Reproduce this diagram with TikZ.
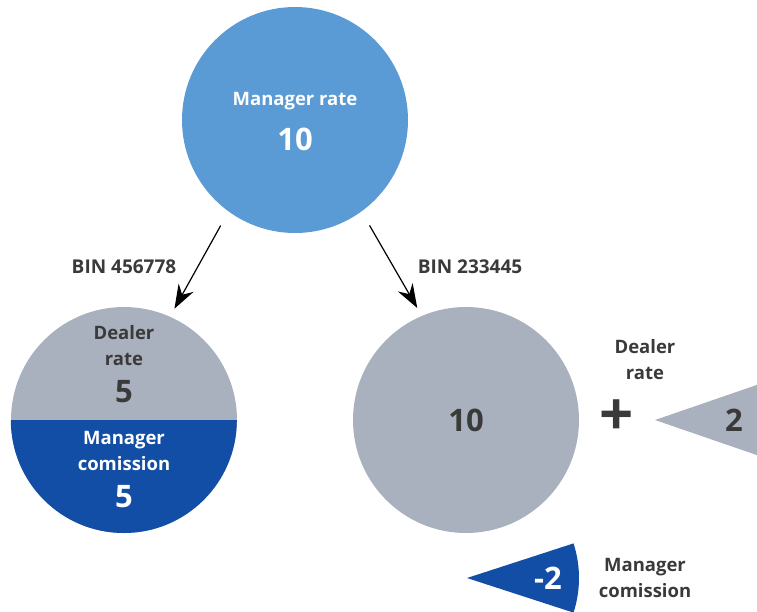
\documentclass[tikz,border=0pt]{standalone}
\usepackage{fontspec}
\setmainfont{Open Sans}
\usetikzlibrary{arrows.meta}

\definecolor{mgrblue}{HTML}{5B9BD5}
\definecolor{dlrgrey}{HTML}{AAB1BE}
\definecolor{comblue}{HTML}{134EA6}
\definecolor{inkgrey}{HTML}{3A3A3A}

\begin{document}
\begin{tikzpicture}[x=1pt, y=1pt,
    every node/.style={align=center, inner sep=0pt},
    bigcircle/.style={circle, minimum size=226pt, draw=none},
    txtsmall/.style={font=\fontsize{18.5}{26}\selectfont\bfseries},
    txtbig/.style={font=\fontsize{31}{31}\selectfont\bfseries},
    lbl/.style={txtsmall, text=inkgrey},
    arr/.style={-{Stealth[length=24pt, width=17pt, inset=8pt]}, line width=1.2pt, black,
                shorten <=16pt, shorten >=9pt},
  ]

  \useasboundingbox (0,0) rectangle (757,-611);
  \clip (0,0) rectangle (757,-611);

  % === Circles ===
  \node[bigcircle, fill=mgrblue] (manager) at (295,-120) {};
  \node[bigcircle, fill=dlrgrey] (dealerA) at (124,-420) {};
  \node[bigcircle, fill=dlrgrey] (dealerB) at (466,-420) {};
  \fill[comblue] (dealerA.west) arc[start angle=180, end angle=360, radius=113] -- cycle;

  % === Wedges ===
  \coordinate (tipR) at (655,-420);
  \coordinate (tipB) at (467,-578);
  \fill[dlrgrey] (tipR) -- ++(19:150) arc[start angle=19, end angle=-19, radius=150] -- cycle;
  \fill[comblue] (tipB) -- ++(18:112) arc[start angle=18, end angle=-18, radius=112] -- cycle;

  % === Texts in shapes ===
  \node[txtsmall, text=white] (mgrlbl) at (295,-101) {Manager rate};
  \node[txtbig, text=white]   (mgrval) at (295,-139) {10};
  \node[lbl]                  (dlrlblA) at (124,-346) {Dealer\\rate};
  \node[txtbig, text=inkgrey] (dlrvalA) at (124,-392) {5};
  \node[txtsmall, text=white] (comlblA) at (124,-451) {Manager\\comission};
  \node[txtbig, text=white]   (comvalA) at (124,-497) {5};
  \node[txtbig, text=inkgrey] (dlrvalB) at (466,-420) {10};
  \node[txtbig, text=inkgrey] (dlrvalR) at (734,-420) {2};
  \node[txtbig, text=white]   (comvalB) at (548,-578) {-2};

  % === Side labels ===
  \node[font=\fontsize{60}{60}\selectfont\bfseries, text=inkgrey] (plus) at (617,-418) {+};
  \node[lbl] (dlrlblR) at (645,-360) {Dealer\\rate};
  \node[lbl] (comlblB) at (645,-578) {Manager\\comission};

  % === Arrows ===
  \draw[arr] (manager.234.5) -- (dealerA.66.8);
  \draw[arr] (manager.-54.5) -- (dealerB.113.2);
  \node[lbl, font=\fontsize{19}{26}\selectfont\bfseries] (binA) at (124,-267) {BIN 456778};
  \node[lbl, font=\fontsize{19}{26}\selectfont\bfseries] (binB) at (470,-267) {BIN 233445};

\end{tikzpicture}
\end{document}
